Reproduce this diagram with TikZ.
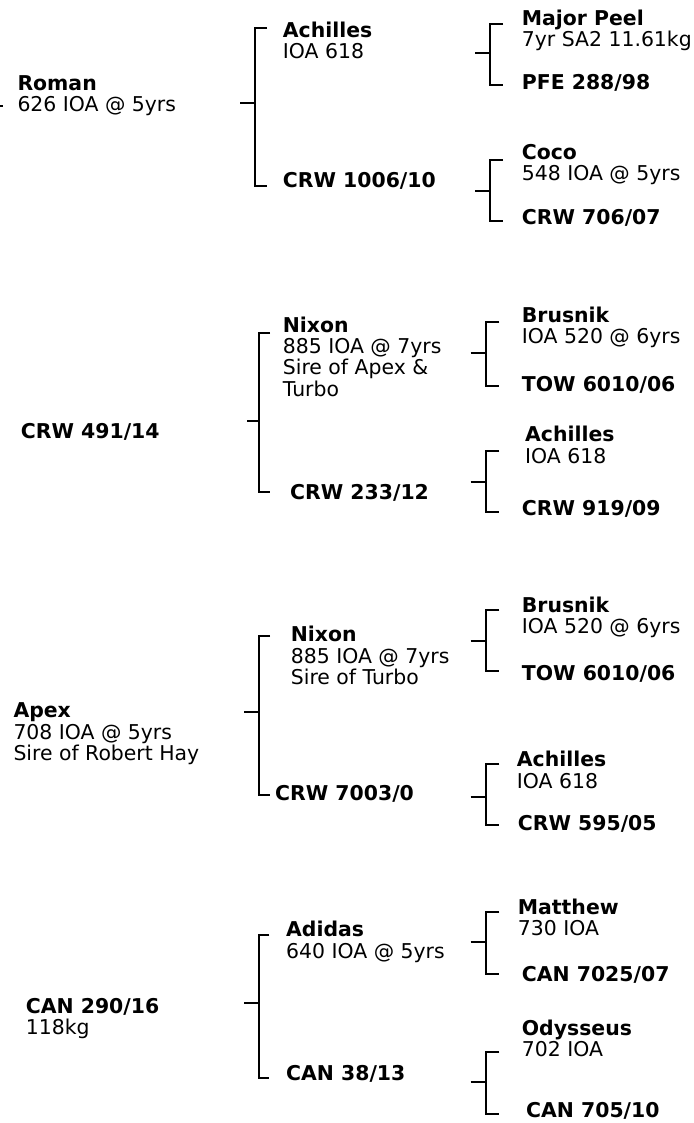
\documentclass[tikz,border=0pt]{standalone}
\usepackage{fontspec}
\setmainfont{DejaVu Sans}
\usetikzlibrary{positioning}
\tikzset{
  horse/.style={anchor=base west, inner sep=0pt, align=left, font=\fontsize{20.4}{21.3}\selectfont},
  fork/.style={line width=2pt, line join=miter}
}
% bracket: name, start x, vertical x, tip x, stub y, top y, bottom y
\newcommand{\pedfork}[7]{%
  \coordinate (#1) at (#2,#5);
  \coordinate (#1-t) at (#4,#6);
  \coordinate (#1-b) at (#4,#7);
  \draw[fork] (#1) -- (#3,#5) coordinate (#1-v) (#1-t) -| (#1-v) |- (#1-b);
}

\begin{document}
\begin{tikzpicture}[x=1pt, y=-1pt]
  \useasboundingbox (0,0) rectangle (693,1123);
  % Pedigree 1: Roman (nodes sit on the baseline of their last line)
  \coordinate (edge) at (0,106);
  \coordinate (edgetip) at (3,106);
  \draw[fork] (edge) -- (edgetip);
  \node[horse] (roman) at (17.3,112) {\textbf{Roman}\\626 IOA @ 5yrs};
  \pedfork{fRoman}{240}{255}{267}{102.7}{28.3}{185.7}
  \node[horse] (achA) at (282.7,59) {\textbf{Achilles}\\IOA 618};
  \node[horse] (crw1006) at (282.7,187.3) {\textbf{CRW 1006/10}};
  \pedfork{fAchA}{475}{490}{503}{53.3}{24}{85}
  \node[horse] (peel) at (521.7,46.5) {\textbf{Major Peel}\\7yr SA2 11.61kg};
  \node[horse] (pfe288) at (521.7,90) {\textbf{PFE 288/98}};
  \pedfork{fCrw1006}{475}{490}{503}{191}{160}{220.7}
  \node[horse] (coco) at (521.7,180.5) {\textbf{Coco}\\548 IOA @ 5yrs};
  \node[horse] (crw706) at (521.7,225) {\textbf{CRW 706/07}};
  % Pedigree 2: CRW 491/14
  \node[horse] (crw491) at (20.7,438.3) {\textbf{CRW 491/14}};
  \pedfork{fCrw491}{247}{258.7}{270}{420.7}{333.3}{491.7}
  \node[horse] (nixA) at (282.7,396.2) {\textbf{Nixon}\\885 IOA @ 7yrs\\Sire of Apex \&\\Turbo};
  \node[horse] (crw233) at (290,499) {\textbf{CRW 233/12}};
  \pedfork{fNixA}{470.7}{485.7}{499.3}{353.3}{322.3}{385.7}
  \node[horse] (brusA) at (521.7,343.7) {\textbf{Brusnik}\\IOA 520 @ 6yrs};
  \node[horse] (tow6010A) at (521.7,391.7) {\textbf{TOW 6010/06}};
  \pedfork{fCrw233}{470.7}{485.7}{499.3}{481.7}{451}{511.7}
  \node[horse] (achB) at (525,463) {\textbf{Achilles}\\IOA 618};
  \node[horse] (crw919) at (521.7,515.7) {\textbf{CRW 919/09}};
  % Pedigree 3: Apex
  \node[horse] (apex) at (13.3,760.3) {\textbf{Apex}\\708 IOA @ 5yrs\\Sire of Robert Hay};
  \pedfork{fApex}{244}{258.7}{270}{711.7}{636}{795}
  \node[horse] (nixB) at (290.7,684.5) {\textbf{Nixon}\\885 IOA @ 7yrs\\Sire of Turbo};
  \node[horse] (crw7003) at (275,800.7) {\textbf{CRW 7003/0}};
  \pedfork{fNixB}{470.7}{485.7}{499.3}{640.7}{610}{670.7}
  \node[horse] (brusB) at (521.7,633.7) {\textbf{Brusnik}\\IOA 520 @ 6yrs};
  \node[horse] (tow6010B) at (521.7,680) {\textbf{TOW 6010/06}};
  \pedfork{fCrw7003}{470.7}{485.7}{499.3}{796.7}{764.3}{825}
  \node[horse] (achC) at (516.7,788) {\textbf{Achilles}\\IOA 618};
  \node[horse] (crw595) at (517.7,830.7) {\textbf{CRW 595/05}};
  % Pedigree 4: CAN 290/16
  \node[horse] (can290) at (25.7,1034.4) {\textbf{CAN 290/16}\\118kg};
  \pedfork{fCan290}{244}{258.7}{269.3}{1002.7}{935}{1078.3}
  \node[horse] (adidas) at (286,958) {\textbf{Adidas}\\640 IOA @ 5yrs};
  \node[horse] (can38) at (286,1080.7) {\textbf{CAN 38/13}};
  \pedfork{fAdidas}{470.7}{485.7}{499.3}{942.3}{911.7}{974.3}
  \node[horse] (matthew) at (517.7,935.3) {\textbf{Matthew}\\730 IOA};
  \node[horse] (can7025) at (521.7,981.7) {\textbf{CAN 7025/07}};
  \pedfork{fCan38}{470.7}{485.7}{499.3}{1082.3}{1051.7}{1114}
  \node[horse] (odys) at (521.7,1056.3) {\textbf{Odysseus}\\702 IOA};
  \node[horse] (can705) at (526,1117.3) {\textbf{CAN 705/10}};
\end{tikzpicture}
\end{document}
